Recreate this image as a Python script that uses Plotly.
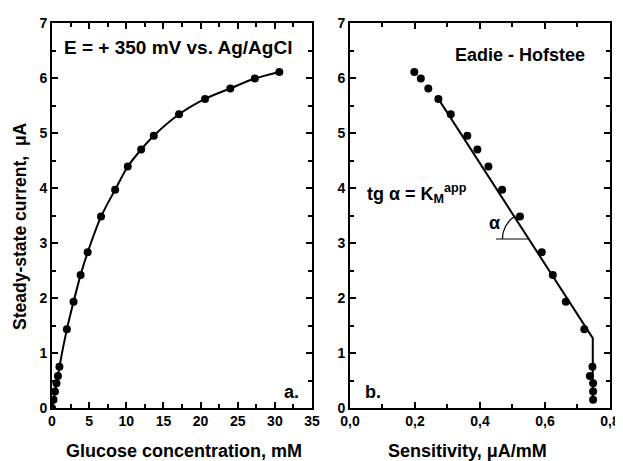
import numpy as np
import plotly.graph_objects as go
from plotly.subplots import make_subplots

# Panel a: glucose concentration (mM) vs steady-state current (uA)
glucose_mM = [0, 0.2, 0.4, 0.6, 0.8, 1.0, 2.0, 2.9, 3.85, 4.8, 6.6, 8.5, 10.2,
              12.0, 13.7, 17.1, 20.6, 24.0, 27.3, 30.6]
current_uA = [0, 0.15, 0.30, 0.45, 0.58, 0.75, 1.43, 1.93, 2.42, 2.83, 3.48, 3.97,
              4.39, 4.70, 4.95, 5.34, 5.62, 5.81, 5.99, 6.11]

# Panel b: Eadie-Hofstee (sensitivity uA/mM vs current uA)
sens_uA_mM = [0.748, 0.748, 0.748, 0.738, 0.746, 0.721, 0.664, 0.624, 0.590, 0.523,
              0.468, 0.426, 0.392, 0.361, 0.310, 0.272, 0.241, 0.218, 0.198]
sens_current_uA = [0.15, 0.30, 0.45, 0.58, 0.75, 1.43, 1.93, 2.42, 2.83, 3.48,
                   3.97, 4.39, 4.70, 4.95, 5.34, 5.62, 5.81, 5.99, 6.11]

# Fitted line in panel b
fit_x = [0.272, 0.747, 0.747]
fit_y = [5.62, 1.27, 0.15]

# Angle marker
angle_center = (0.552, 3.073)
angle_hline_x = [0.449, 0.552]

x1_ticks = [0, 5, 10, 15, 20, 25, 30, 35]
x2_ticks = [0.0, 0.2, 0.4, 0.6, 0.8]
x2_ticktext = ["0,0", "0,2", "0,4", "0,6", "0,8"]
y_ticks = [0, 1, 2, 3, 4, 5, 6, 7]

FONT = "Arial, Liberation Sans, sans-serif"

fig = make_subplots(rows=1, cols=2, horizontal_spacing=0.068)

fig.add_trace(go.Scatter(x=glucose_mM, y=current_uA, mode="lines+markers",
                         line=dict(color="black", width=2, shape="spline", smoothing=0.8),
                         marker=dict(color="black", size=8),
                         showlegend=False), row=1, col=1)

fig.add_trace(go.Scatter(x=fit_x, y=fit_y, mode="lines",
                         line=dict(color="black", width=2),
                         showlegend=False), row=1, col=2)
fig.add_trace(go.Scatter(x=sens_uA_mM, y=sens_current_uA, mode="markers",
                         marker=dict(color="black", size=8),
                         showlegend=False), row=1, col=2)

# angle: horizontal reference and arc
fig.add_trace(go.Scatter(x=angle_hline_x, y=[angle_center[1]] * 2, mode="lines",
                         line=dict(color="black", width=1.2), showlegend=False),
              row=1, col=2)
theta = np.linspace(np.pi, np.deg2rad(121), 30)
rpx = 27.0
arc_x = angle_center[0] + rpx / 325.0 * np.cos(theta)
arc_y = angle_center[1] + rpx / 55.0 * np.sin(theta)
fig.add_trace(go.Scatter(x=arc_x, y=arc_y, mode="lines",
                         line=dict(color="black", width=1.2), showlegend=False),
              row=1, col=2)

axis_common = dict(showline=True, linecolor="black", linewidth=2, mirror="allticks",
                   ticks="inside", ticklen=6, tickwidth=1.5, tickcolor="black",
                   showgrid=False, zeroline=False, automargin=False,
                   tickfont=dict(family=FONT, size=14, color="black", weight="bold"))

minor_common = dict(ticks="inside", ticklen=4, tickwidth=1.5, tickcolor="black",
                    showgrid=False)

fig.update_xaxes(range=[0, 35], tickvals=x1_ticks, ticklabelstandoff=-1,
                 minor=dict(dtick=2.5, tick0=0, **minor_common),
                 row=1, col=1, **axis_common)
fig.update_xaxes(range=[0, 0.8], tickvals=x2_ticks, ticktext=x2_ticktext,
                 ticklabelstandoff=-1,
                 minor=dict(dtick=0.1, tick0=0, **minor_common),
                 row=1, col=2, **axis_common)
fig.update_yaxes(range=[0, 7], tickvals=y_ticks,
                 minor=dict(dtick=0.5, tick0=0, **minor_common),
                 **axis_common)

bold = dict(family=FONT, color="black", weight="bold")

ann = [
    dict(text="E = + 350 mV vs. Ag/AgCl", x=1.3, y=6.56, xref="x", yref="y",
         xanchor="left", yanchor="middle", font=dict(size=19, **bold)),
    dict(text="a.", x=33.5, y=0.3, xref="x", yref="y", xanchor="right", yanchor="middle",
         font=dict(size=18, **bold)),
    dict(text="Eadie - Hofstee", x=0.73, y=6.42, xref="x2", yref="y2",
         xanchor="right", yanchor="middle", font=dict(size=18, **bold)),
    dict(text="tg α = K<sub>M</sub><sup>app</sup>", x=0.045, y=3.9, xref="x2", yref="y2",
         xanchor="left", yanchor="middle", font=dict(size=18, **bold)),
    dict(text="α", x=0.446, y=3.36, xref="x2", yref="y2", xanchor="center",
         yanchor="middle", font=dict(size=18, **bold)),
    dict(text="b.", x=0.04, y=0.3, xref="x2", yref="y2", xanchor="left", yanchor="middle",
         font=dict(size=18, **bold)),
    dict(text="Glucose concentration, mM", x=0.2366, y=-0.112, xref="paper", yref="paper",
         xanchor="center", yanchor="middle", font=dict(size=18, **bold)),
    dict(text="Sensitivity, μA/mM", x=0.7446, y=-0.112, xref="paper", yref="paper",
         xanchor="center", yanchor="middle", font=dict(size=18, **bold)),
    dict(text="Steady-state current,  μA", x=-0.0573, y=0.473, xref="paper", yref="paper",
         xanchor="center", yanchor="middle", textangle=-90, font=dict(size=17.5, **bold)),
]
for a in ann:
    a["showarrow"] = False
fig.update_layout(annotations=ann)

# page body has an 8px default margin, so the figure is sized to fit the window
fig.update_layout(width=615, height=453,
                  margin=dict(l=44, r=13, t=15, b=53, autoexpand=False),
                  paper_bgcolor="white", plot_bgcolor="white", showlegend=False)

fig.write_html("out.html")
